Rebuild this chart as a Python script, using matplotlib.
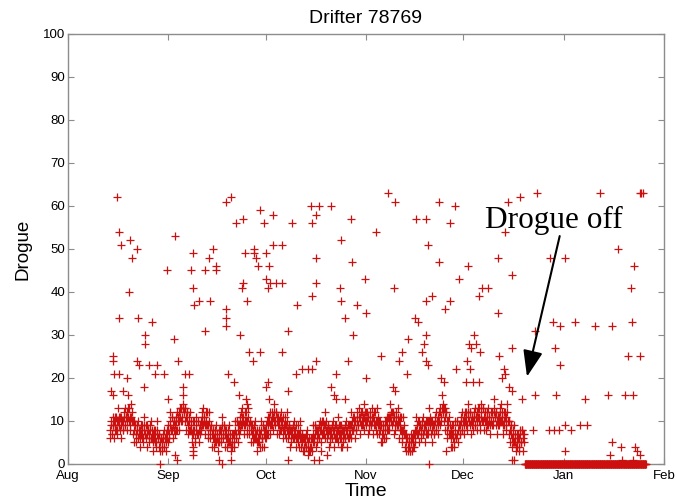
import pandas as pd
import matplotlib
matplotlib.use("Agg")
import matplotlib.pyplot as plt
import matplotlib.dates as mdates

plt.rcParams['font.family'] = ['Liberation Sans', 'DejaVu Sans']

# leituras de 6 em 6 horas (4 por dia), a partir de 14 de agosto
band_start = "2008-08-14"
band_vals = [
    6, 9, 7, 11, 9, 6, 11, 8, 10, 7, 13, 9, 8, 11, 6, 10,
    8, 11, 9, 13, 11, 8, 13, 10, 11, 8, 14, 10, 7, 10, 5, 9,
    5, 8, 6, 10, 7, 4, 9, 6, 8, 5, 11, 7, 6, 9, 4, 8,
    5, 8, 6, 10, 6, 3, 8, 5, 7, 4, 10, 6, 4, 7, 3, 6,
    3, 6, 4, 8, 6, 3, 8, 5, 9, 6, 12, 8, 8, 11, 6, 10,
    7, 10, 8, 12, 11, 8, 13, 10, 13, 10, 16, 12, 10, 13, 8, 12,
    7, 10, 8, 12, 8, 5, 10, 7, 8, 5, 11, 7, 7, 10, 5, 9,
    8, 11, 9, 13, 10, 7, 12, 9, 9, 6, 12, 8, 6, 9, 4, 8,
    4, 7, 5, 9, 6, 3, 8, 5, 8, 5, 11, 7, 6, 9, 4, 8,
    4, 7, 5, 9, 5, 3, 7, 4, 7, 4, 10, 6, 7, 10, 5, 9,
    8, 11, 9, 13, 10, 7, 12, 9, 10, 7, 13, 9, 7, 10, 5, 9,
    5, 8, 6, 10, 6, 3, 8, 5, 7, 4, 10, 6, 6, 9, 4, 8,
    6, 9, 7, 11, 10, 7, 12, 9, 11, 8, 14, 10, 9, 12, 7, 11,
    7, 10, 8, 12, 9, 6, 11, 8, 9, 6, 12, 8, 6, 9, 4, 8,
    5, 8, 6, 10, 7, 4, 9, 6, 7, 4, 10, 6, 4, 7, 3, 6,
    3, 6, 4, 8, 4, 2, 6, 3, 6, 3, 9, 5, 6, 9, 4, 8,
    5, 8, 6, 10, 8, 5, 10, 7, 9, 6, 12, 8, 6, 9, 4, 8,
    5, 8, 6, 10, 7, 4, 9, 6, 8, 5, 11, 7, 6, 9, 4, 8,
    5, 8, 6, 10, 7, 4, 9, 6, 9, 6, 12, 8, 8, 11, 6, 10,
    8, 11, 9, 13, 10, 7, 12, 9, 11, 8, 14, 10, 9, 12, 7, 11,
    8, 11, 9, 13, 10, 7, 12, 9, 10, 7, 13, 9, 7, 10, 5, 9,
    5, 8, 6, 10, 9, 6, 11, 8, 11, 8, 14, 10, 9, 12, 7, 11,
    8, 11, 9, 13, 9, 6, 11, 8, 8, 5, 11, 7, 4, 7, 3, 6,
    3, 5, 3, 7, 5, 3, 7, 4, 8, 5, 11, 7, 7, 10, 5, 9,
    6, 9, 7, 11, 8, 5, 10, 7, 10, 7, 13, 9, 7, 10, 5, 9,
    7, 10, 8, 12, 10, 7, 12, 9, 13, 10, 16, 12, 10, 13, 8, 12,
    6, 9, 7, 11, 7, 4, 9, 6, 7, 4, 10, 6, 7, 10, 5, 9,
    7, 10, 8, 12, 10, 7, 12, 9, 11, 8, 14, 10, 9, 12, 7, 11,
    8, 11, 9, 13, 11, 8, 13, 10, 11, 8, 14, 10, 10, 13, 8, 12,
    8, 11, 9, 13, 10, 7, 12, 9, 12, 9, 15, 11, 9, 12, 7, 11,
    9, 12, 10, 14, 10, 7, 12, 9, 11, 8, 14, 10, 7, 10, 5, 9,
    4, 7, 5, 9, 5, 3, 7, 4, 6, 3, 8, 5, 5, 8, 3, 7,
]

# leituras intermediarias (3 h depois de cada uma acima)
band_vals_b = [
    8, 10, 7, 9, 10, 8, 9, 11, 8, 10, 11, 9, 11, 9, 10, 8,
    10, 12, 9, 11, 12, 10, 11, 13, 9, 11, 12, 10, 10, 8, 9, 7,
    7, 9, 6, 8, 8, 6, 7, 9, 6, 8, 9, 7, 9, 7, 8, 6,
    7, 9, 6, 8, 7, 5, 6, 8, 5, 7, 8, 6, 7, 5, 6, 4,
    5, 7, 4, 6, 7, 5, 6, 8, 7, 9, 10, 8, 11, 9, 10, 8,
    9, 11, 8, 10, 12, 10, 11, 13, 11, 13, 14, 12, 13, 11, 12, 10,
    9, 11, 8, 10, 9, 7, 8, 10, 6, 8, 9, 7, 10, 8, 9, 7,
    10, 12, 9, 11, 11, 9, 10, 12, 7, 9, 10, 8, 9, 7, 8, 6,
    6, 8, 5, 7, 7, 5, 6, 8, 6, 8, 9, 7, 9, 7, 8, 6,
    6, 8, 5, 7, 6, 4, 5, 7, 5, 7, 8, 6, 10, 8, 9, 7,
    10, 12, 9, 11, 11, 9, 10, 12, 8, 10, 11, 9, 10, 8, 9, 7,
    7, 9, 6, 8, 7, 5, 6, 8, 5, 7, 8, 6, 9, 7, 8, 6,
    8, 10, 7, 9, 11, 9, 10, 12, 9, 11, 12, 10, 12, 10, 11, 9,
    9, 11, 8, 10, 10, 8, 9, 11, 7, 9, 10, 8, 9, 7, 8, 6,
    7, 9, 6, 8, 8, 6, 7, 9, 5, 7, 8, 6, 7, 5, 6, 4,
    5, 7, 4, 6, 5, 3, 4, 6, 4, 6, 7, 5, 9, 7, 8, 6,
    7, 9, 6, 8, 9, 7, 8, 10, 7, 9, 10, 8, 9, 7, 8, 6,
    7, 9, 6, 8, 8, 6, 7, 9, 6, 8, 9, 7, 9, 7, 8, 6,
    7, 9, 6, 8, 8, 6, 7, 9, 7, 9, 10, 8, 11, 9, 10, 8,
    10, 12, 9, 11, 11, 9, 10, 12, 9, 11, 12, 10, 12, 10, 11, 9,
    10, 12, 9, 11, 11, 9, 10, 12, 8, 10, 11, 9, 10, 8, 9, 7,
    7, 9, 6, 8, 10, 8, 9, 11, 9, 11, 12, 10, 12, 10, 11, 9,
    10, 12, 9, 11, 10, 8, 9, 11, 6, 8, 9, 7, 7, 5, 6, 4,
    4, 6, 3, 5, 6, 4, 5, 7, 6, 8, 9, 7, 10, 8, 9, 7,
    8, 10, 7, 9, 9, 7, 8, 10, 8, 10, 11, 9, 10, 8, 9, 7,
    9, 11, 8, 10, 11, 9, 10, 12, 11, 13, 14, 12, 13, 11, 12, 10,
    8, 10, 7, 9, 8, 6, 7, 9, 5, 7, 8, 6, 10, 8, 9, 7,
    9, 11, 8, 10, 11, 9, 10, 12, 9, 11, 12, 10, 12, 10, 11, 9,
    10, 12, 9, 11, 12, 10, 11, 13, 9, 11, 12, 10, 13, 11, 12, 10,
    10, 12, 9, 11, 11, 9, 10, 12, 10, 12, 13, 11, 12, 10, 11, 9,
    11, 13, 10, 12, 11, 9, 10, 12, 9, 11, 12, 10, 10, 8, 9, 7,
    6, 8, 5, 7, 6, 4, 5, 7, 4, 6, 7, 5, 8, 6, 7, 5,
]

# depois que o drogue soltou: tudo zero (continua de 6 em 6 horas)
off_vals = [
    0, 0, 0, 0, 0, 0, 0, 0, 0, 0,
    0, 0, 0, 0, 0, 0, 0, 0, 0, 0,
    0, 0, 0, 0, 0, 0, 0, 0, 0, 0,
    0, 0, 0, 0, 0, 0, 0, 0, 0, 0,
    0, 0, 0, 0, 0, 0, 0, 0, 0, 0,
    0, 0, 0, 0, 0, 0, 0, 0, 0, 0,
    0, 0, 0, 0, 0, 0, 0, 0, 0, 0,
    0, 0, 0, 0, 0, 0, 0, 0, 0, 0,
    0, 0, 0, 0, 0, 0, 0, 0, 0, 0,
    0, 0, 0, 0, 0, 0, 0, 0, 0, 0,
    0, 0, 0, 0, 0, 0, 0, 0, 0, 0,
    0, 0, 0, 0, 0, 0, 0, 0, 0, 0,
    0, 0, 0, 0, 0, 0, 0, 0, 0, 0,
    0, 0, 0, 0, 0, 0, 0, 0, 0, 0,
    0, 0, 0, 0, 0, 0, 0, 0, 0, 0,
]

# pontos espalhados (dias desde 1 de agosto, valor)
out_day = [
    15.1, 15.7, 16.4, 19.0, 19.8, 21.4, 18.7, 15.7, 21.6, 26.0, 23.9, 23.9,
    13.9, 14.0, 21.4, 22.0, 25.0, 27.5, 14.2, 15.9, 18.2, 27.0, 29.6, 23.4,
    13.3, 13.9, 17.1, 18.5, 30.5, 33.0, 32.6, 33.9, 31.0, 35.4, 36.2, 37.3,
    32.9, 33.6, 28.4, 38.7, 38.0, 38.7, 38.8, 40.3, 42.4, 43.6, 44.9, 45.7,
    45.7, 43.9, 42.4, 38.5, 38.7, 38.7, 48.8, 50.3, 48.8, 48.8, 48.8, 49.3,
    51.3, 46.7, 47.7, 50.3, 52.0, 54.0, 54.7, 57.3, 57.5, 58.0, 58.8, 53.7,
    54.0, 55.2, 53.2, 56.0, 57.0, 59.3, 52.9, 54.9, 55.4, 59.2, 60.6, 61.0,
    62.1, 61.0, 62.4, 61.6, 61.0, 61.6, 63.4, 63.3, 64.2, 62.0, 59.8,
    66.2, 66.2, 66.2, 69.2, 74.9, 77.5, 75.4, 76.5, 81.1, 76.7, 70.8, 75.2,
    76.7, 68.0, 84.2, 87.3, 87.6, 84.0, 84.2, 85.5, 89.3, 92.1, 91.7, 88.0,
    95.0, 98.9, 101.0, 100.7, 107.4, 110.5, 111.0, 114.4, 119.6, 117.9, 114.6, 120.6,
    110.5, 112.3, 116.4, 117.9, 107.2, 108.2, 105.0, 110.5, 110.0, 103.0, 102.2, 109.2,
    110.5, 111.0, 104.8, 96.6, 86.3, 76.5, 72.3, 74.2, 75.4, 70.5, 82.6, 92.1,
    81.1, 82.1, 82.8, 85.5, 68.0, 100.2, 101.0, 115.1, 116.1, 119.8, 68.0, 76.0,
    77.5, 80.0, 78.0, 84.2, 84.2, 111.5, 116.7, 118.5,
    123.0, 125.0, 127.0, 124.0,
    135.9, 139.4, 144.7, 134.9, 164.3, 176.6, 176.9, 177.6, 132.8, 148.9, 153.5, 169.9,
    123.6, 137.1, 174.8, 127.9, 129.8, 126.9, 173.8, 132.8, 149.6, 152.0, 156.6, 162.7,
    168.0, 174.0, 144.3, 125.4, 125.9, 123.8, 124.4, 127.1, 123.3, 137.0, 150.5, 133.1,
    152.0, 134.6, 134.9, 134.1, 172.8, 176.6, 144.1, 140.2, 150.7, 159.7, 166.8, 171.9,
    174.5, 136.1, 137.1, 143.5, 148.4, 150.0, 151.5, 153.5, 155.4, 158.1, 160.2, 153.3,
    167.9, 170.7, 167.3, 175.0, 175.8, 176.6, 170.9, 174.5, 137.1, 137.6,
]
out_val = [
    62, 54, 51, 52, 48, 50, 40, 34, 34, 33, 30, 28,
    25, 24, 24, 23, 23, 23, 21, 21, 20, 21, 21, 18,
    17, 16, 17, 16, 45, 53, 29, 24, 15, 18, 21, 21,
    2, 1, 0, 49, 45, 41, 37, 38, 45, 48, 50, 46,
    45, 38, 31, 4, 3, 2, 61, 62, 36, 34, 32, 21,
    19, 1, 0, 1, 56, 57, 49, 50, 49, 48, 46, 41,
    42, 38, 30, 26, 24, 26, 16, 15, 14, 59, 56, 49,
    46, 43, 42, 41, 18, 19, 58, 51, 42, 15, 4,
    51, 42, 26, 56, 60, 60, 56, 58, 60, 48, 37, 39,
    42, 31, 52, 57, 47, 41, 38, 34, 37, 35, 43, 30,
    54, 63, 61, 41, 57, 57, 51, 61, 60, 56, 47, 43,
    38, 39, 36, 38, 34, 33, 29, 30, 28, 26, 24, 26,
    24, 23, 21, 25, 24, 24, 22, 22, 22, 21, 21, 20,
    18, 16, 15, 15, 17, 18, 17, 20, 19, 22, 1, 1,
    1, 2, 3, 6, 4, 0, 3, 4,
    19, 19, 19, 22,
    61, 62, 63, 54, 63, 63, 63, 63, 48, 48, 48, 50,
    46, 44, 46, 41, 41, 39, 41, 35, 33, 32, 33, 32,
    32, 33, 31, 30, 28, 28, 27, 26, 24, 27, 27, 25,
    23, 22, 21, 20, 25, 25, 16, 15, 16, 15, 16, 16,
    16, 18, 17, 8, 8, 8, 8, 9, 8, 9, 9, 3,
    5, 4, 2, 4, 3, 2, 1, 1, 1, 1,
]

base = pd.Timestamp("2008-08-01")
band_t = pd.date_range(band_start, periods=len(band_vals), freq="6h")
band_t_b = band_t + pd.Timedelta("3h")
off_t = pd.date_range(band_t[-1] + pd.Timedelta("6h"), periods=len(off_vals), freq="6h")
off_t_b = off_t + pd.Timedelta("3h")
out_t = base + pd.to_timedelta(out_day, unit="D")

def dia(d):
    return mdates.date2num(base + pd.Timedelta(days=d))

fig = plt.figure(figsize=(6.77, 5.04), dpi=100)
ax = fig.add_axes([0.1004, 0.0794, 0.8804, 0.8532])

vermelho = '#cc1010'
mk = dict(marker='+', linestyle='none', color=vermelho, ms=6, mew=0.9,
          clip_on=False, zorder=3)
ax.plot(band_t.to_numpy(), band_vals, **mk)
ax.plot(band_t_b.to_numpy(), band_vals_b, **mk)
ax.plot(off_t.to_numpy(), off_vals, **mk)
ax.plot(off_t_b.to_numpy(), off_vals, **mk)
ax.plot(out_t.to_numpy(), out_val, **mk)

ax.set_xlim(pd.Timestamp("2008-08-01"), pd.Timestamp("2009-02-01"))
ax.set_ylim(0, 100)
ax.set_yticks(range(0, 101, 10))
ax.xaxis.set_major_locator(mdates.MonthLocator())
ax.xaxis.set_major_formatter(mdates.DateFormatter('%b'))

for s in ax.spines.values():
    s.set_color('#8c8c8c')
    s.set_linewidth(1.0)
ax.tick_params(direction='in', top=True, right=True, color='#8c8c8c',
               length=4, width=0.8, labelsize=9.5)
ax.tick_params(axis='x', pad=4)
ax.tick_params(axis='y', pad=2)

ax.set_title('Drifter 78769', fontsize=14, pad=8)
ax.set_xlabel('Time', fontsize=14, labelpad=1)
ax.set_ylabel('Drogue', fontsize=13.5, labelpad=8)

ax.annotate('', xy=(dia(141.7), 20.3), xytext=(dia(151.8), 53),
            arrowprops=dict(arrowstyle='-|>,head_length=0.8,head_width=0.3',
                            mutation_scale=20, color='black', lw=1.5,
                            shrinkA=0, shrinkB=0))
ax.text(dia(128.7), 54.9, 'Drogue off', family=['Liberation Serif', 'DejaVu Serif'],
        fontsize=22.5, va='baseline', ha='left')

plt.savefig('out.png', dpi=100)
